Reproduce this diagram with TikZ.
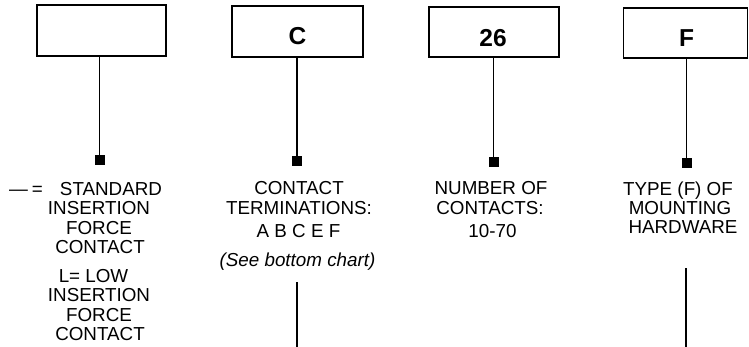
\documentclass[tikz,border=0pt]{standalone}
\usepackage{fontspec}
\setmainfont{Liberation Sans}
\begin{document}
\begin{tikzpicture}[x=1pt,y=-1pt,
  box/.style={draw, line width=1.4pt, inner sep=0pt},
  big/.style={anchor=base, inner sep=0pt, font=\fontsize{24.5}{28}\selectfont\bfseries},
  conn/.style={line width=1.1pt},
  sq/.style={fill=black, draw=none, minimum size=10pt, inner sep=0pt},
  lbl/.style={anchor=base, inner sep=0pt, font=\fontsize{18.8}{20}\selectfont},
  ilbl/.style={lbl, font=\fontsize{18.8}{20}\selectfont\itshape}]
\useasboundingbox (0,0) rectangle (749,347);

% boxes
\node[box, minimum width=129pt, minimum height=51pt] (b1) at (101.5,30.5) {};
\node[box, minimum width=131pt, minimum height=51pt] (b2) at (297.5,31.5) {};
\node[box, minimum width=130pt, minimum height=50pt] (b3) at (494,32) {};
\node[box, minimum width=124pt, minimum height=50pt] (b4) at (685.5,33) {};

% letters in boxes
\node[big] (c2) at (297.5,45) {C};
\node[big] (c3) at (493,47) {26};
\node[big] (c4) at (686.5,47) {F};

% squares
\node[sq] (s1) at (99.5,160.5) {};
\node[sq] (s2) at (297,161) {};
\node[sq] (s3) at (493.5,162) {};
\node[sq] (s4) at (686.5,163.5) {};

% connectors
\draw[conn] (b1.south -| s1) -- (s1);
\draw[conn] (b2.south -| s2) -- (s2);
\draw[conn] (b3.south -| s3) -- (s3);
\draw[conn] (b4.south -| s4) -- (s4);

% column 1 text
\node[lbl, anchor=base west] (a1) at (9,196) {—\hspace{4pt}=\hspace{17pt}STANDARD};
\node[lbl] (a2) at (99,215) {INSERTION};
\node[lbl] (a3) at (99,234.5) {FORCE};
\node[lbl] (a4) at (100,254) {CONTACT};
\node[lbl] (a5) at (93.5,282) {L= LOW};
\node[lbl] (a6) at (99,301.5) {INSERTION};
\node[lbl] (a7) at (99,321) {FORCE};
\node[lbl] (a8) at (100,340.5) {CONTACT};

% column 2 text
\node[lbl] (d1) at (299,195) {CONTACT};
\node[lbl] (d2) at (299,215) {TERMINATIONS:};
\node[lbl] (d3) at (298.5,238) {A B C E F};
\node[ilbl] (d4) at (297.5,266.5) {(See bottom chart)};

% column 3 text
\node[lbl] (e1) at (491,195) {NUMBER OF};
\node[lbl] (e2) at (490,215) {CONTACTS:};
\node[lbl] (e3) at (492.5,238) {10-70};

% column 4 text
\node[lbl] (f1) at (678,196) {TYPE (F) OF};
\node[lbl] (f2) at (680,215) {MOUNTING};
\node[lbl] (f3) at (683,234) {HARDWARE};

% lower lines
\coordinate (g2a) at (297,282);
\coordinate (g2b) at (297,347);
\coordinate (g4a) at (686,268);
\coordinate (g4b) at (686,347);
\draw[conn] (g2a) -- (g2b);
\draw[conn] (g4a) -- (g4b);
\end{tikzpicture}
\end{document}
